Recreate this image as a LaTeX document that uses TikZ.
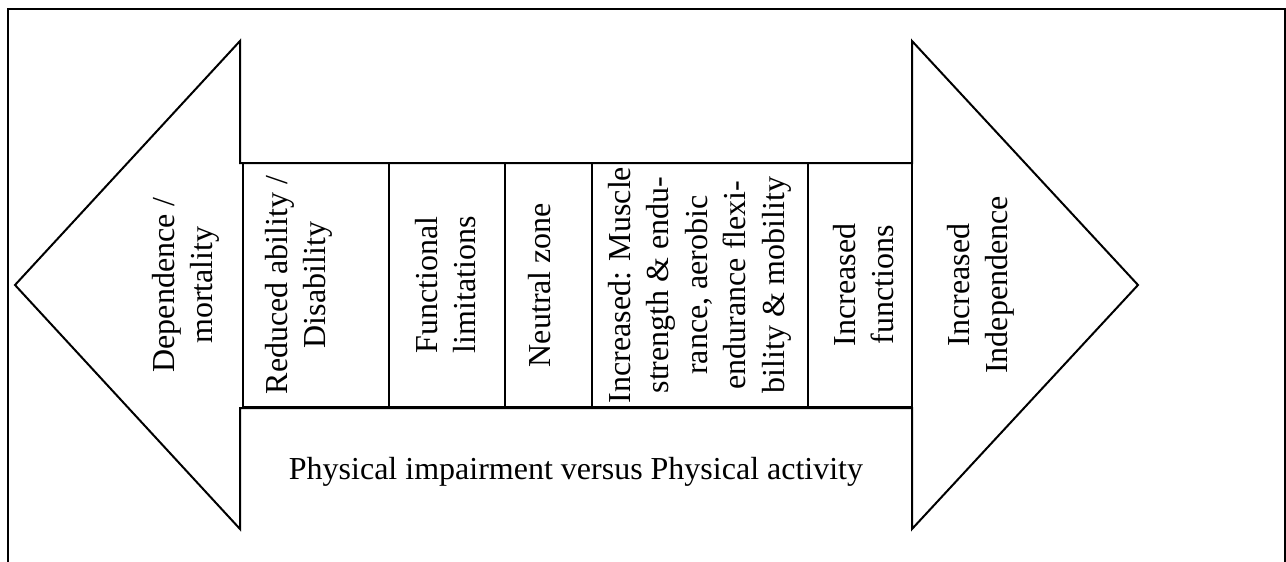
\documentclass[tikz,border=0pt]{standalone}
\usepackage{fontspec}
\setmainfont{Liberation Serif}
\begin{document}
\begin{tikzpicture}[x=1pt,y=-1pt,
  outline/.style={line width=2pt, line join=miter},
  frame/.style={line width=2.8pt},
  cell/.style={line width=2.2pt},
  vlabel/.style={rotate=90, anchor=north, align=center, inner sep=0pt, font=\fontsize{32}{38.5}\selectfont},
  hlabel/.style={anchor=base, inner sep=0pt, font=\fontsize{32}{38.5}\selectfont}]
\useasboundingbox (0,0) rectangle (1286,562);
% outer frame (open at the bottom)
\draw[frame] (8,562) -- (8,9) -- (1285,9) -- (1285,562);
% double-headed arrow
\draw[outline] (240,163) -- (240,41) -- (15,285) -- (240,529) -- (240,408)
  -- (912,408) -- (912,529) -- (1138,285) -- (912,41) -- (912,163) -- cycle;
% table
\draw[cell] (243,163) rectangle (912,407);
\foreach \x in {389,505,592,808} \draw[cell] (\x,163) -- (\x,407);
% labels
\node[vlabel] (dep) at (152,285) {Dependence /\\mortality};
\node[vlabel] (red) at (265,285) {Reduced ability /\\Disability};
\node[vlabel] (fun) at (415,285) {Functional\\limitations};
\node[vlabel] (neu) at (528,285) {Neutral zone};
\node[vlabel] (inc) at (608,285) {Increased: Muscle\\strength \& endu-\\rance, aerobic\\endurance flexi-\\bility \& mobility};
\node[vlabel] (ifn) at (833,285) {Increased\\functions};
\node[vlabel] (ind) at (947,285) {Increased\\Independence};
\node[hlabel] (phy) at (576,479) {Physical impairment versus Physical activity};
\end{tikzpicture}
\end{document}
